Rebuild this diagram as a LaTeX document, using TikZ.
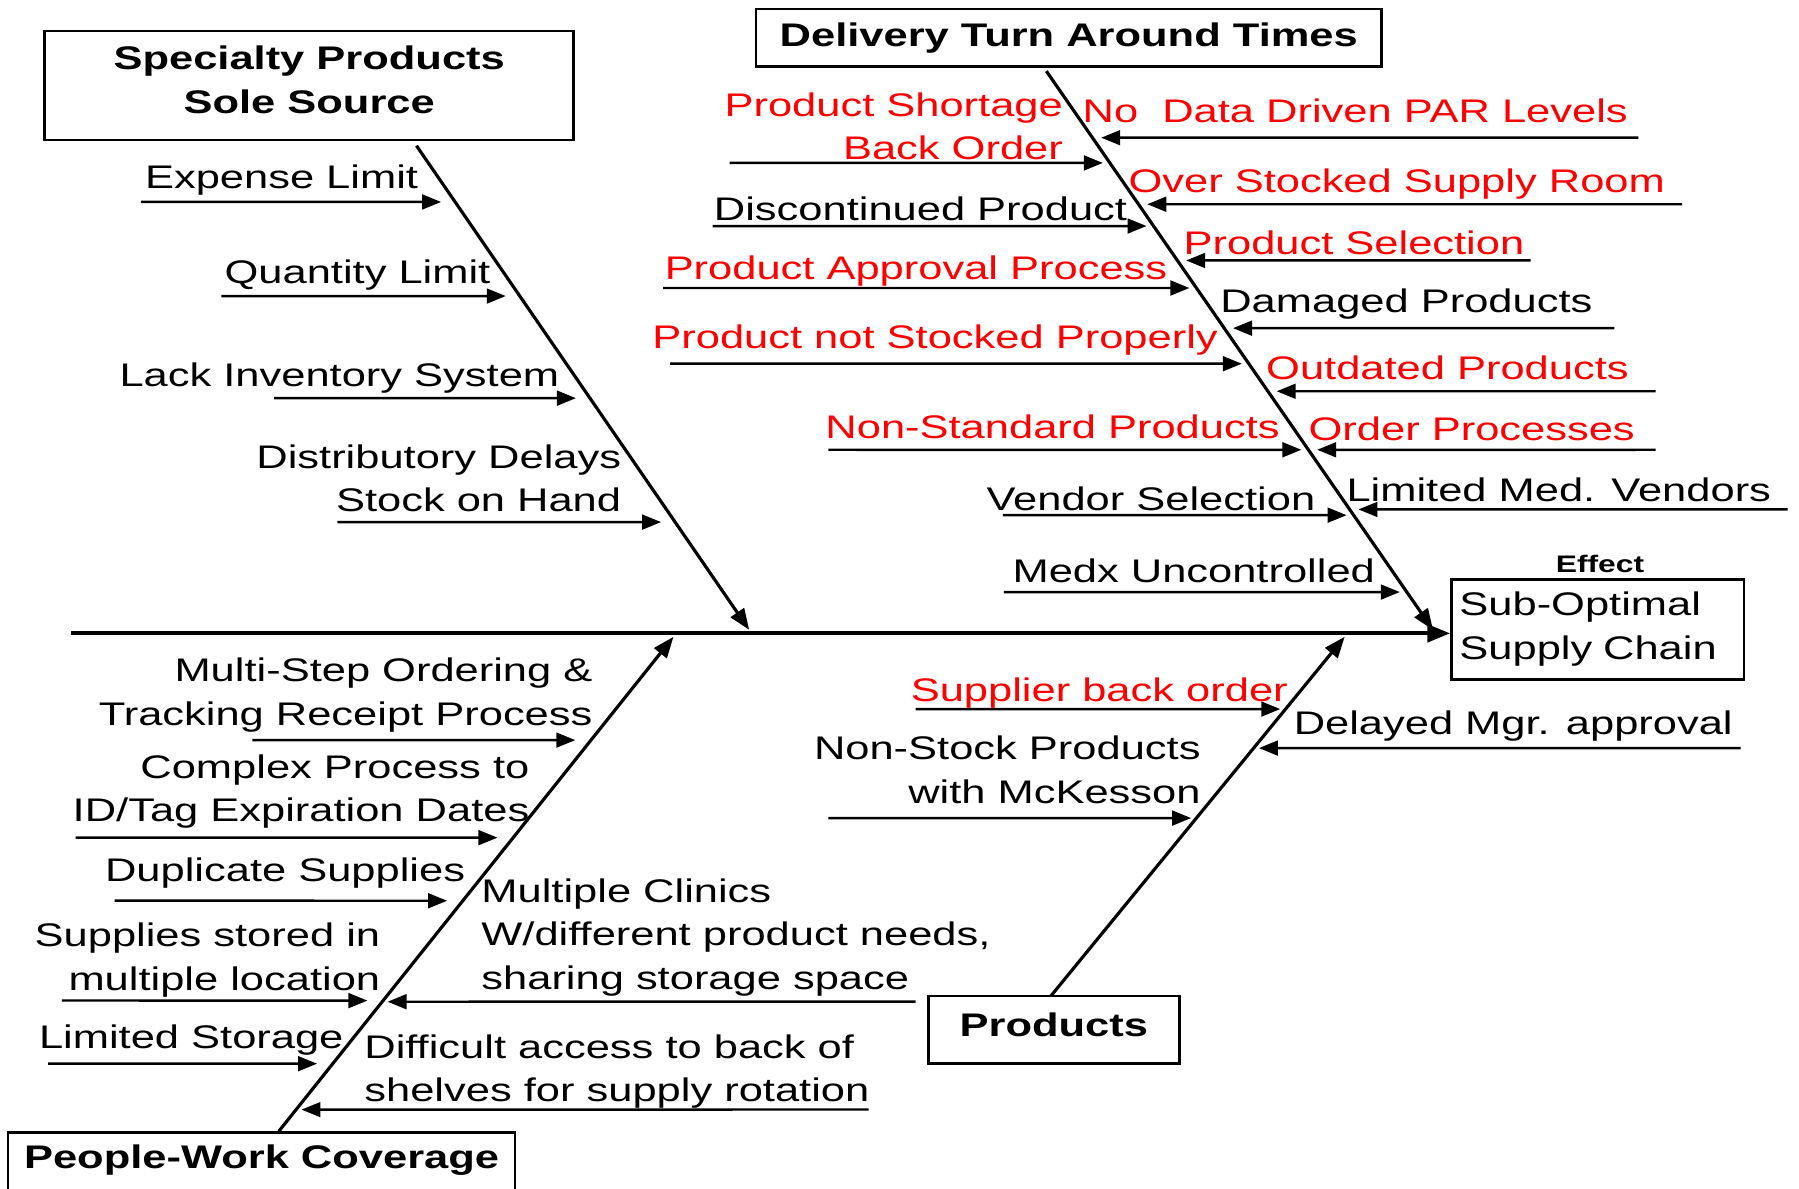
\documentclass[tikz,border=0pt]{standalone}
\usepackage{fontspec}
\setmainfont[FakeStretch=1.33]{Liberation Sans}
\usetikzlibrary{arrows.meta}

\tikzset{
  lbl/.style={inner sep=0pt, font=\fontsize{9.3}{12.4}\selectfont},
  redlbl/.style={lbl, text=red},
  title/.style={draw, line width=0.75pt, font=\fontsize{9.3}{12.4}\selectfont\bfseries, inner sep=0pt},
  bone/.style={line width=0.9pt, -{Triangle[length=6pt,width=4.5pt]}},
  cause/.style={line width=0.7pt, -{Triangle[length=5.4pt,width=4.2pt]}},
}

\begin{document}
\begin{tikzpicture}[x=0.011473cm, y=-0.011473cm]
    \useasboundingbox (0,0) rectangle (1568,1036);

    % effect
    \node[title, font=\fontsize{9.3}{12.4}\selectfont, text width=2.765cm, align=left, minimum height=0.998cm, inner xsep=0.08cm] (effect) at (1392.5,548.5) {Sub-Optimal\\Supply Chain};
    \node[inner sep=0pt, font=\fontsize{6.8}{8}\selectfont\bfseries, anchor=base] (effecttitle) at (1394.5,499) {Effect};

    % category boxes
    \node[title, align=center, minimum width=5.289cm, minimum height=1.090cm, text depth=0.6ex] (specialty) at (269.5,74.5) {Specialty Products\\Sole Source};
    \node[title, minimum width=6.253cm, minimum height=0.574cm] (delivery) at (931.5,33) {Delivery Turn Around Times};
    \node[title, minimum width=2.513cm, minimum height=0.677cm, text depth=0.5ex] (products) at (918.5,897.5) {Products};
    \node[title, anchor=north, minimum width=5.071cm, inner ysep=3.6pt, text depth=0.5cm] (people) at (228,986) {People-Work Coverage};

    % spine
    \coordinate (tail) at (62,552);
    \draw[line width=1.1pt, -{Triangle[length=6.5pt,width=5pt]}] (tail) -- (tail -| effect.west);

    % bones
    \coordinate (spA) at (363,127);
    \coordinate (spB) at (653,549);
    \coordinate (dlA) at (912,62);
    \coordinate (dlB) at (1249,549);
    \coordinate (pwA) at (243,986);
    \coordinate (pwB) at (587,555);
    \coordinate (prA) at (916,868);
    \coordinate (prB) at (1172,555);
    \draw[bone] (spA) -- (spB);
    \draw[bone] (dlA) -- (dlB);
    \draw[bone] (pwA) -- (pwB);
    \draw[bone] (prA) -- (prB);

    % specialty products
    \node[lbl, anchor=base east] (expense) at (365,164) {Expense Limit};
    \node[lbl, anchor=base east] (quantity) at (428,247) {Quantity Limit};
    \node[lbl, anchor=base east] (inventory) at (488,337) {Lack Inventory System};
    \node[lbl, anchor=north east, align=right] (delays) at (542,387) {Distributory Delays\\Stock on Hand};
    \foreach \y/\x in {176/123, 258/193, 347/239, 455/294}
        \draw[cause, shorten >=4pt] (\x,\y) -- (intersection of spA--spB and 0,\y--1,\y);

    % delivery, left side
    \node[redlbl, anchor=north east, align=right] (shortage) at (927,80) {Product Shortage\\Back Order};
    \node[lbl, anchor=base east] (discontinued) at (983,192) {Discontinued Product};
    \node[redlbl, anchor=base east] (approval) at (1018,244) {Product Approval Process};
    \node[redlbl, anchor=base east] (stocking) at (1062,304) {Product not Stocked Properly};
    \node[redlbl, anchor=base east] (nonstandard) at (1116,382) {Non-Standard Products};
    \node[lbl, anchor=base east] (vendorsel) at (1147,445) {Vendor Selection};
    \node[lbl, anchor=base east] (medx) at (1199,508) {Medx Uncontrolled};
    \foreach \y/\x in {142/636, 197/621, 251/578, 317/584, 392/722, 449/874, 516/875}
        \draw[cause, shorten >=2pt] (\x,\y) -- (intersection of dlA--dlB and 0,\y--1,\y);

    % delivery, right side
    \node[redlbl, anchor=base west] (parlevels) at (943,107) {No\ \ Data Driven PAR Levels};
    \node[redlbl, anchor=base west] (overstock) at (983,168) {Over Stocked Supply Room};
    \node[redlbl, anchor=base west] (prodsel) at (1031,222) {Product Selection};
    \node[lbl, anchor=base west] (damaged) at (1063,272) {Damaged Products};
    \node[redlbl, anchor=base west] (outdated) at (1103,331) {Outdated Products};
    \node[redlbl, anchor=base west] (orderproc) at (1140,384) {Order Processes};
    \node[lbl, anchor=base west] (medvendors) at (1173,437) {Limited Med. Vendors};
    \foreach \y/\x in {120/1428, 178/1466, 227/1334, 286/1407, 341/1443, 392/1443, 444/1558}
        \draw[cause, shorten >=2.5pt] (\x,\y) -- (intersection of dlA--dlB and 0,\y--1,\y);

    % products
    \node[redlbl, anchor=base east] (supplier) at (1123,611) {Supplier back order};
    \node[lbl, anchor=north east, align=right] (nonstock) at (1047,641) {Non-Stock Products\\with McKesson};
    \node[lbl, anchor=base west] (mgrapproval) at (1127,640) {Delayed Mgr. approval};
    \foreach \y/\x in {618/798, 713/722, 652/1517}
        \draw[cause, shorten >=1.5pt] (\x,\y) -- (intersection of prA--prB and 0,\y--1,\y);

    % people, left side
    \node[lbl, anchor=north east, align=right] (multistep) at (517,573) {Multi-Step Ordering \&\\Tracking Receipt Process};
    \node[lbl, anchor=north east, align=right] (expiry) at (462,657) {Complex Process to\\ID/Tag Expiration Dates};
    \node[lbl, anchor=base east] (duplicate) at (406,768) {Duplicate Supplies};
    \node[lbl, anchor=north east, align=right] (stored) at (332,804) {Supplies stored in\\multiple location};
    \node[lbl, anchor=base east] (storage) at (300,914) {Limited Storage};
    \foreach \y/\x in {645/220, 730/66, 785/100, 872/54, 927/42}
        \draw[cause, shorten >=4.5pt] (\x,\y) -- (intersection of pwA--pwB and 0,\y--1,\y);

    % people, right side
    \node[lbl, anchor=north west, align=left] (clinics) at (419,765) {Multiple Clinics\\W/different product needs,\\sharing storage space};
    \node[lbl, anchor=north west, align=left] (access) at (317,901) {Difficult access to back of\\shelves for supply rotation};
    \foreach \y/\x in {873/798, 967/757}
        \draw[cause, shorten >=1.5pt] (\x,\y) -- (intersection of pwA--pwB and 0,\y--1,\y);

\end{tikzpicture}
\end{document}
